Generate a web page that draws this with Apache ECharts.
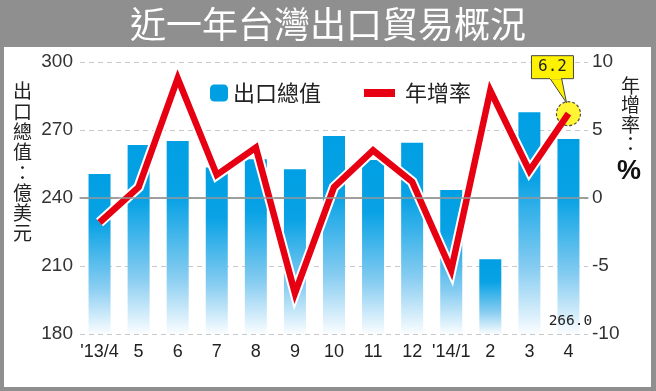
<!DOCTYPE html>
<html>
<head>
<meta charset="utf-8">
<script src="https://cdn.jsdelivr.net/npm/echarts@6/dist/echarts.min.js"></script>
<style>
html,body{margin:0;padding:0;background:#8f8f8f;}
#c{width:656px;height:391px;}
</style>
</head>
<body>
<div id="c"></div>
<script>
var categories = ["'13/4","5","6","7","8","9","10","11","12","'14/1","2","3","4"];
var exportValues = [250.6, 263.4, 265.2, 253.5, 257.1, 252.7, 267.4, 256.8, 264.4, 243.5, 213.0, 277.8, 266.0];
var growthRates = [-1.8, 0.8, 8.8, 1.7, 3.7, -7.0, 0.8, 3.5, 1.2, -5.3, 7.9, 2.0, 6.2];
var leftTicks = [180, 300, 30];
var rightTicks = [-10, 10, 5];

var NUM = "'Liberation Sans',Arial,sans-serif";
var CJK = "'Noto Sans CJK TC','Noto Sans CJK SC',sans-serif";
var MONO = "'DejaVu Sans Mono','Liberation Mono',monospace";
var last = categories.length - 1;

var chart = echarts.init(document.getElementById('c'));
var barData = exportValues.map(function (v, i) {
  if (i === last) {
    return {value: v, label: {show: true, position: 'insideBottom', distance: 5, offset: [2, 0],
      formatter: function (p) { return p.value.toFixed(1); },
      fontFamily: MONO, fontSize: 14.5, color: '#222'}};
  }
  return v;
});

var option = {
  backgroundColor: '#8f8f8f',
  animation: false,
  title: {
    text: '近一年台灣出口貿易概況', left: 'center', top: 1,
    textStyle: {color: '#fff', fontSize: 36, fontWeight: 'normal', fontFamily: CJK}
  },
  graphic: [
    {type: 'rect', z: -10, shape: {x: 4, y: 47, width: 647, height: 340}, style: {fill: '#fff'}},
    {type: 'text', z: 10, left: 13, top: 81, style: {text: '出\n口\n總\n值\n：\n億\n美\n元', font: '19px ' + CJK, fill: '#222', lineHeight: 20.3}},
    {type: 'text', z: 10, left: 621, top: 76, style: {text: '年\n增\n率\n：', font: '19px ' + CJK, fill: '#222', lineHeight: 19.5}},
    {type: 'text', z: 10, left: 617, top: 158, style: {text: '%', font: 'bold 27px ' + NUM, fill: '#111'}}
  ],
  legend: [
    {data: [{name: '出口總值', itemStyle: {color: '#009fe3'}}], left: 205, top: 77, itemWidth: 18, itemHeight: 17, itemGap: 10,
      textStyle: {fontFamily: CJK, fontSize: 22, color: '#222', padding: [0, 0, 0, 0]}},
    {data: [{name: '年增率', icon: 'rect', itemStyle: {color: '#e60012'}}], left: 359, top: 77, itemWidth: 31, itemHeight: 8,
      textStyle: {fontFamily: CJK, fontSize: 22, color: '#222', padding: [0, 0, 0, 5]}}
  ],
  grid: {left: 80, right: 68, top: 62, bottom: 57},
  xAxis: {
    type: 'category', data: categories,
    axisLine: {lineStyle: {color: '#999', width: 1.5}},
    axisTick: {alignWithLabel: true, length: 5, lineStyle: {color: '#999', width: 1.5}},
    axisLabel: {interval: 0, fontFamily: NUM, fontSize: 18, color: '#222', margin: 9}
  },
  yAxis: [
    {type: 'value', min: leftTicks[0], max: leftTicks[1], interval: leftTicks[2],
      axisLine: {show: false}, axisTick: {show: false},
      axisLabel: {fontFamily: NUM, fontSize: 19, color: '#333', margin: 7},
      splitLine: {lineStyle: {color: '#c8c8c8', type: [5, 4], width: 1}}},
    {type: 'value', min: rightTicks[0], max: rightTicks[1], interval: rightTicks[2],
      axisLine: {show: false}, axisTick: {show: false},
      axisLabel: {fontFamily: NUM, fontSize: 19, color: '#333', margin: 4},
      splitLine: {show: false}}
  ],
  series: [
    {name: '出口總值', type: 'bar', yAxisIndex: 0, data: barData, barWidth: 22, z: 2,
      itemStyle: {color: new echarts.graphic.LinearGradient(0, 0, 0, 1, [
        {offset: 0, color: '#009fe3'}, {offset: 0.3, color: '#08a2e5'},
        {offset: 0.7, color: '#86ccf1'}, {offset: 1, color: '#fafdff'}])},
      markLine: {silent: true, symbol: 'none', label: {show: false},
        lineStyle: {color: '#999', type: 'solid', width: 1.5},
        data: [{yAxis: 240}]}},
    {name: 'outline', type: 'line', yAxisIndex: 1, data: growthRates, symbol: 'none', z: 3, silent: true,
      lineStyle: {color: '#fff', width: 10.5, join: 'miter'}},
    {name: 'callout', type: 'scatter', yAxisIndex: 1, z: 3,
      data: [[last, growthRates[last]]], symbolSize: 24,
      itemStyle: {color: '#fff200', borderColor: '#222', borderWidth: 1.2, borderType: [3, 2]}},
    {name: '年增率', type: 'line', yAxisIndex: 1, data: growthRates, symbol: 'none', z: 4,
      lineStyle: {color: '#e60012', width: 6.5, join: 'miter'}}
  ]
};
chart.setOption(option);

var pt = chart.convertToPixel({xAxisIndex: 0, yAxisIndex: 1}, [last, growthRates[last]]);
chart.setOption({graphic: option.graphic.concat([
  {type: 'polygon', z: 20, shape: {points: [[pt[0] - 19, pt[1] - 36], [pt[0] - 7, pt[1] - 36], [pt[0] - 2, pt[1] - 11]]},
    style: {fill: '#fff200', stroke: '#444', lineWidth: 1}},
  {type: 'rect', z: 21, shape: {x: pt[0] - 37, y: pt[1] - 58, width: 42, height: 23},
    style: {fill: '#fff200', stroke: '#444', lineWidth: 1}},
  {type: 'rect', z: 22, shape: {x: pt[0] - 18.5, y: pt[1] - 36.5, width: 11, height: 2}, style: {fill: '#fff200'}},
  {type: 'text', z: 23, x: pt[0] - 16, y: pt[1] - 46.5,
    style: {text: growthRates[last].toFixed(1), font: '16px ' + MONO, fill: '#222', align: 'center', verticalAlign: 'middle'}}
])});
</script>
</body>
</html>
